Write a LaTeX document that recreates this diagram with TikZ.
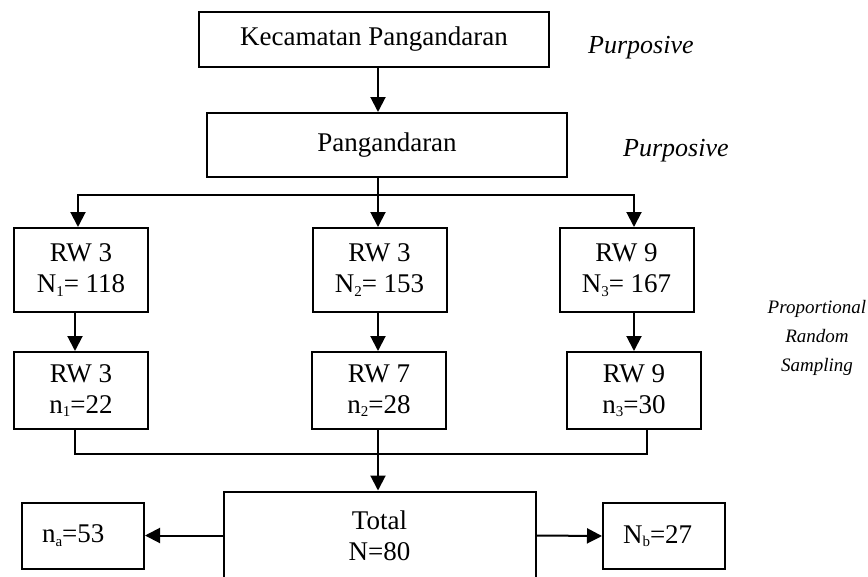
\documentclass[tikz,border=0pt]{standalone}
\usepackage{fontspec}
\setmainfont{Liberation Serif}
\usetikzlibrary{arrows.meta, positioning}
\newcommand{\lowsub}[1]{\raisebox{-3.5pt}{\fontsize{15}{15}\selectfont #1}}

\begin{document}
\begin{tikzpicture}[x=1pt,y=-1pt,
    box/.style={draw,line width=2pt,align=center,inner sep=0pt,font=\fontsize{27}{31}\selectfont},
    side/.style={box,minimum width=122pt,minimum height=66pt,text width=82pt,inner xsep=20pt,align=left},
    flow/.style={line width=2pt},
    arr/.style={flow,-{Triangle[length=15pt,width=15pt]}},
    method/.style={inner sep=0pt,font=\fontsize{26}{31}\selectfont\itshape}]
    \useasboundingbox (0,0) rectangle (868,576);
    \clip (0,0) rectangle (868,576);
    % Area selection
    \node[box,minimum width=350pt,minimum height=55pt] (kec) at (374,39.5) {Kecamatan Pangandaran};
    \node[box,minimum width=360pt,minimum height=64pt] (pang) at (387,145) {Pangandaran};
    \node[method,right=38pt of kec,yshift=-8pt] (purp1) {Purposive};
    \node[method,right=55pt of pang,yshift=-6pt] (purp2) {Purposive};
    % Population and sample per RW
    \foreach \i/\xa/\xb/\rwa/\pop/\rwb/\samp in {1/81/81/3/118/3/22, 2/379.5/379/3/153/7/28, 3/626.5/634/9/167/9/30} {
        \node[box,minimum width=134pt,minimum height=84pt] (pop\i) at (\xa,270) {RW \rwa\\N\lowsub{\i}= \pop};
        \node[box,minimum width=134pt,minimum height=77pt] (samp\i) at (\xb,390.5) {RW \rwb\\n\lowsub{\i}=\samp};
    }
    \node[inner sep=0pt,align=center,font=\fontsize{19}{29}\selectfont\itshape] (prop) at (817,338) {Proportional\\Random\\Sampling};
    % Total and split
    \node[box,minimum width=312pt,minimum height=88pt] (total) at (379.5,535.5) {Total\\N=80};
    \node[side] (na) at (83,535.5) {n\lowsub{a}=53};
    \node[side] (nb) at (664,536) {N\lowsub{b}=27};
    % Arrows
    \coordinate (split) at (378,195);
    \coordinate (merge) at (378,454);
    \draw[arr] (kec.south -| split) -- (pang.north -| split);
    \draw[flow] (pang.south -| split) -- (split);
    \draw[arr] (split) -| ([xshift=-3pt]pop1.north);
    \draw[arr] (split) -- (split |- pop2.north);
    \draw[arr] (split) -| ([xshift=7.5pt]pop3.north);
    \draw[arr] ([xshift=-6pt]pop1.south) -- ([xshift=-6pt]samp1.north);
    \draw[arr] (pop2.south -| split) -- (samp2.north -| split);
    \draw[arr] (samp3.north |- pop3.south) -- (samp3.north);
    \draw[flow] ([xshift=-6pt]samp1.south) |- (merge) -| ([xshift=13pt]samp3.south);
    \draw[arr] (samp2.south -| merge) -- (total.north -| merge);
    \draw[arr] (total.west) -- (na.east);
    \draw[arr] (total.east) -- (nb.west);
\end{tikzpicture}
\end{document}
